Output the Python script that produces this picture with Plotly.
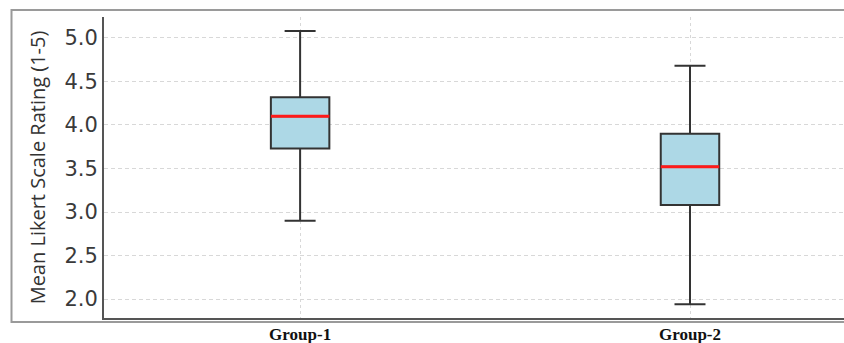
import plotly.graph_objects as go

groups = ["Group-1", "Group-2"]
lower_whisker = [2.90, 1.94]
q1 = [3.73, 3.08]
median = [4.10, 3.52]
q3 = [4.32, 3.90]
upper_whisker = [5.08, 4.68]
y_ticks = [2.0, 2.5, 3.0, 3.5, 4.0, 4.5, 5.0]

box_width = 0.15

fig = go.Figure()
fig.add_trace(go.Box(
    x=groups,
    q1=q1, median=median, q3=q3,
    lowerfence=lower_whisker, upperfence=upper_whisker,
    width=box_width,
    whiskerwidth=0.53,
    fillcolor="#add8e6",
    line=dict(color="#333333", width=2),
    boxpoints=False,
    showlegend=False,
    hoverinfo="skip",
))

shapes = []
for i, m in enumerate(median):
    shapes.append(dict(type="line", xref="x", yref="y",
                       x0=i - box_width / 2, x1=i + box_width / 2, y0=m, y1=m,
                       line=dict(color="#ff1a1a", width=3), layer="above"))
# outer frame of the figure screenshot
shapes.append(dict(type="rect", xref="paper", yref="paper",
                   x0=-0.125, x1=1.02, y0=-0.0133, y1=1.0233,
                   line=dict(color="#9a9a9a", width=2), fillcolor="rgba(0,0,0,0)",
                   layer="below"))

fig.update_layout(
    width=844, height=343,
    margin=dict(l=104, r=0, t=17, b=25),
    paper_bgcolor="white", plot_bgcolor="white",
    shapes=shapes,
    xaxis=dict(
        type="category",
        range=[-0.503, 1.395],
        showline=True, linecolor="#555555", linewidth=2,
        showgrid=True, gridcolor="#d8d8d8", griddash="dot", gridwidth=1,
        ticks="", zeroline=False,
        tickfont=dict(family="Liberation Serif", size=17, color="#111111", weight="bold"),
    ),
    yaxis=dict(
        range=[1.782, 5.241],
        tickvals=y_ticks,
        ticktext=[f"{v:.1f}" for v in y_ticks],
        showline=True, linecolor="#555555", linewidth=2,
        showgrid=True, gridcolor="#d8d8d8", griddash="4px,3px", gridwidth=1,
        ticks="", zeroline=False,
        tickfont=dict(family="DejaVu Sans", size=21, color="#3a3a3a"),
        title=dict(text="Mean Likert Scale Rating (1-5)",
                   font=dict(family="Open Sans", size=20, color="#333333"),
                   standoff=13),
    ),
)

fig.write_html("out.html")
